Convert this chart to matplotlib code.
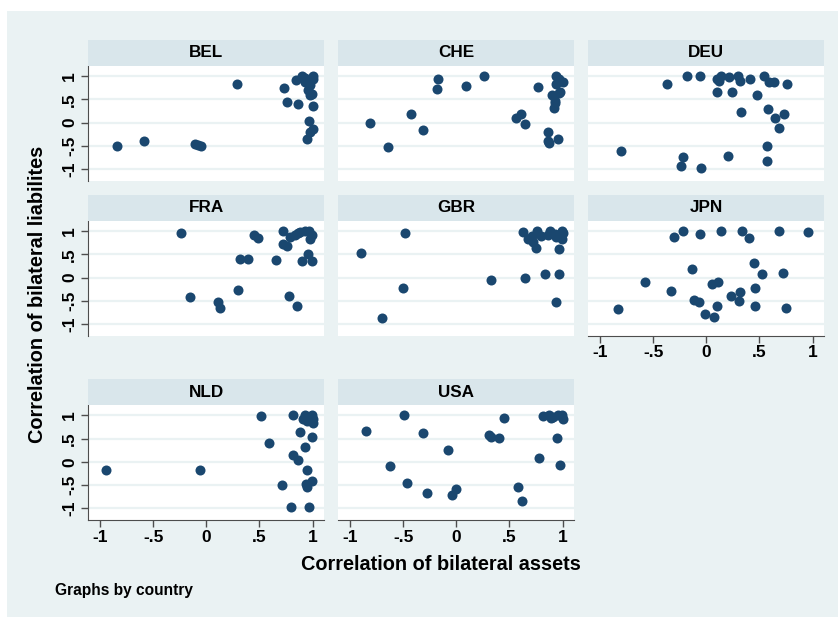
import matplotlib
matplotlib.use('Agg')
import matplotlib.pyplot as plt
from matplotlib.patches import Rectangle

plt.rcParams['font.family'] = ['Liberation Sans', 'DejaVu Sans']
plt.rcParams['font.weight'] = 'bold'

# correlation of bilateral assets (x) vs liabilities (y), by country
countries = ['BEL', 'CHE', 'DEU', 'FRA', 'GBR', 'JPN', 'NLD', 'USA']

bel_x = [-0.84, -0.59, -0.11, -0.05, -0.08, 0.29, 0.73, 0.84, 0.76, 0.86, 1.0, 0.93,
         0.96, 1.0, 1.0, 0.98, 0.96, 0.98, 0.99, 0.97, 1.0, 0.98, 0.95, 0.93, 0.9]
bel_y = [-0.51, -0.40, -0.47, -0.50, -0.48, 0.82, 0.74, 0.92, 0.44, 0.40, 0.36, 0.95,
         0.91, 1.0, 0.94, 0.81, 0.70, 0.58, 0.61, 0.03, -0.13, -0.20, -0.35, 0.88, 0.99]

che_x = [-0.81, -0.64, -0.43, -0.31, -0.17, -0.18, 0.09, 0.26, 0.77, 0.56, 0.61, 0.65,
         0.86, 0.86, 0.87, 0.96, 0.94, 0.97, 1.0, 0.94, 0.97, 0.9, 0.93, 0.92, 0.93, 0.98]
che_y = [0.0, -0.53, 0.19, -0.17, 0.93, 0.73, 0.78, 0.99, 0.76, 0.10, 0.19, -0.04,
         -0.21, -0.40, -0.45, -0.35, 0.99, 0.94, 0.88, 0.82, 0.63, 0.59, 0.46, 0.32, 0.41, 0.65]

deu_x = [-0.80, -0.37, -0.18, -0.06, -0.22, -0.24, -0.05, 0.10, 0.14, 0.12, 0.21, 0.30,
         0.32, 0.41, 0.10, 0.24, 0.48, 0.33, 0.20, 0.54, 0.59, 0.64, 0.76, 0.58, 0.65,
         0.73, 0.68, 0.57, 0.57]
deu_y = [-0.61, 0.82, 0.99, 1.0, -0.74, -0.94, -0.97, 0.94, 0.99, 0.89, 0.97, 1.0,
         0.89, 0.94, 0.65, 0.65, 0.59, 0.23, -0.71, 0.99, 0.88, 0.86, 0.82, 0.28, 0.09,
         0.18, -0.11, -0.51, -0.83]

fra_x = [-0.24, -0.15, 0.11, 0.13, 0.30, 0.32, 0.39, 0.45, 0.49, 0.66, 0.72, 0.72,
         0.76, 0.79, 0.83, 0.78, 0.85, 0.90, 0.96, 0.99, 0.93, 0.97, 0.99, 0.98, 0.88, 0.86]
fra_y = [0.96, -0.41, -0.53, -0.66, -0.26, 0.40, 0.40, 0.91, 0.84, 0.38, 1.0, 0.73,
         0.68, 0.87, 0.92, -0.40, -0.61, 0.36, 0.50, 0.35, 1.0, 1.0, 0.91, 0.82, 0.97, 0.95]

gbr_x = [-0.90, -0.48, -0.50, -0.70, 0.33, 0.65, 0.83, 0.97, 0.94, 0.97, 0.75, 0.63,
         0.67, 0.71, 0.76, 0.80, 0.88, 0.93, 0.99, 1.0, 0.94, 0.86, 0.99, 0.72]
gbr_y = [0.53, 0.96, -0.23, -0.87, -0.05, 0.0, 0.07, 0.07, -0.52, 0.61, 0.64, 0.97,
         0.82, 0.90, 0.99, 0.89, 0.99, 0.94, 1.0, 0.95, 0.88, 0.91, 0.82, 0.77]

jpn_x = [-0.83, -0.58, -0.33, -0.30, -0.22, -0.06, -0.13, -0.12, -0.07, -0.01, 0.07,
         0.10, 0.05, 0.11, 0.14, 0.23, 0.31, 0.32, 0.34, 0.40, 0.45, 0.52, 0.46, 0.46,
         0.68, 0.72, 0.75, 0.96]
jpn_y = [-0.67, -0.09, -0.29, 0.86, 1.0, 0.93, 0.19, -0.48, -0.53, -0.79, -0.84,
         -0.61, -0.15, -0.10, 1.0, -0.40, -0.51, -0.31, 1.0, 0.84, 0.32, 0.08, -0.22,
         -0.62, 0.99, 0.10, -0.66, 0.97]

nld_x = [-0.94, -0.06, 0.51, 0.59, 0.71, 0.80, 0.97, 0.82, 0.88, 0.93, 0.82, 0.86,
         0.95, 0.99, 0.94, 0.95, 0.99, 0.93, 0.99, 1.0, 1.0, 0.91, 0.95]
nld_y = [-0.18, -0.18, 0.99, 0.41, -0.50, -0.98, -0.98, 1.0, 0.65, 0.32, 0.15, 0.03,
         -0.17, -0.41, -0.47, -0.54, 0.54, 1.0, 1.0, 0.84, 0.91, 0.93, 0.88]

usa_x = [-0.85, -0.49, -0.31, -0.62, -0.46, -0.28, -0.08, 0.0, -0.04, 0.31, 0.33,
         0.40, 0.45, 0.58, 0.62, 0.78, 0.95, 0.98, 0.82, 0.87, 0.91, 0.96, 0.99, 1.0, 0.89]
usa_y = [0.66, 1.0, 0.62, -0.09, -0.45, -0.67, 0.25, -0.58, -0.72, 0.57, 0.54, 0.51,
         0.95, -0.55, -0.84, 0.09, 0.51, -0.07, 0.99, 1.0, 0.96, 1.0, 1.0, 0.91, 0.95]

panels = [(bel_x, bel_y), (che_x, che_y), (deu_x, deu_y), (fra_x, fra_y),
          (gbr_x, gbr_y), (jpn_x, jpn_y), (nld_x, nld_y), (usa_x, usa_y)]

ticks = [-1, -0.5, 0, 0.5, 1]
tick_labels = ['-1', '-.5', '0', '.5', '1']

W, H = 838, 617
bg = '#eaf2f3'
strip = '#d9e6eb'
navy = '#1a476f'
axis_col = '#4d4d4d'

fig = plt.figure(figsize=(W / 100, H / 100), dpi=100, facecolor='white')
fig.patches.append(Rectangle((7 / W, 0), 1, 1 - 11 / H, transform=fig.transFigure,
                             facecolor=bg, edgecolor='none', zorder=-10))

col_x = [88.3, 338.3, 588.3]
row_y = [65.7, 220.7, 405.0]
pw, ph, sh = 236, 115, 25.7

for i, (name, (xs, ys)) in enumerate(zip(countries, panels)):
    r, c = divmod(i, 3)
    x0, y0 = col_x[c], row_y[r]
    ax = fig.add_axes([x0 / W, 1 - (y0 + ph) / H, pw / W, ph / H])
    sax = fig.add_axes([x0 / W, 1 - y0 / H, pw / W, sh / H])
    sax.set_facecolor(strip)
    sax.set_xticks([])
    sax.set_yticks([])
    for s in sax.spines.values():
        s.set_visible(False)
    sax.text(0.5, 0.5, name, ha='center', va='center', fontsize=12.3,
             transform=sax.transAxes)

    ax.set_facecolor('white')
    ax.scatter(xs, ys, s=52, color=navy, linewidths=0, zorder=3)
    ax.set_xlim(-1.11, 1.11)
    ax.set_ylim(-1.25, 1.22)
    ax.set_xticks(ticks)
    ax.set_yticks(ticks)
    ax.grid(axis='y', color=bg, linewidth=1.6, zorder=0)
    ax.set_axisbelow(True)
    for s in ax.spines.values():
        s.set_visible(False)

    left = c == 0
    bottom = name in ('JPN', 'NLD', 'USA')
    ax.tick_params(axis='both', color=axis_col, length=5, width=1, labelsize=12.5)
    if left:
        ax.spines['left'].set_visible(True)
        ax.spines['left'].set_color(axis_col)
        ax.set_yticklabels(tick_labels, rotation=90, va='center')
        ax.tick_params(axis='y', pad=3)
    else:
        ax.tick_params(axis='y', left=False, labelleft=False)
    if bottom:
        ax.spines['bottom'].set_visible(True)
        ax.spines['bottom'].set_color(axis_col)
        ax.set_xticklabels(tick_labels)
        ax.tick_params(axis='x', pad=2)
    else:
        ax.tick_params(axis='x', bottom=False, labelbottom=False)

fig.text(38 / W, 1 - 294 / H, 'Correlation of bilateral liabilites', rotation=90,
         ha='center', va='center', fontsize=14.3)
fig.text(441 / W, 1 - 565 / H, 'Correlation of bilateral assets', ha='center',
         va='center', fontsize=14.3)
fig.text(55 / W, 1 - 590 / H, 'Graphs by country', ha='left', va='center', fontsize=11.2)

fig.savefig('out.png', dpi=100, facecolor=fig.get_facecolor())
